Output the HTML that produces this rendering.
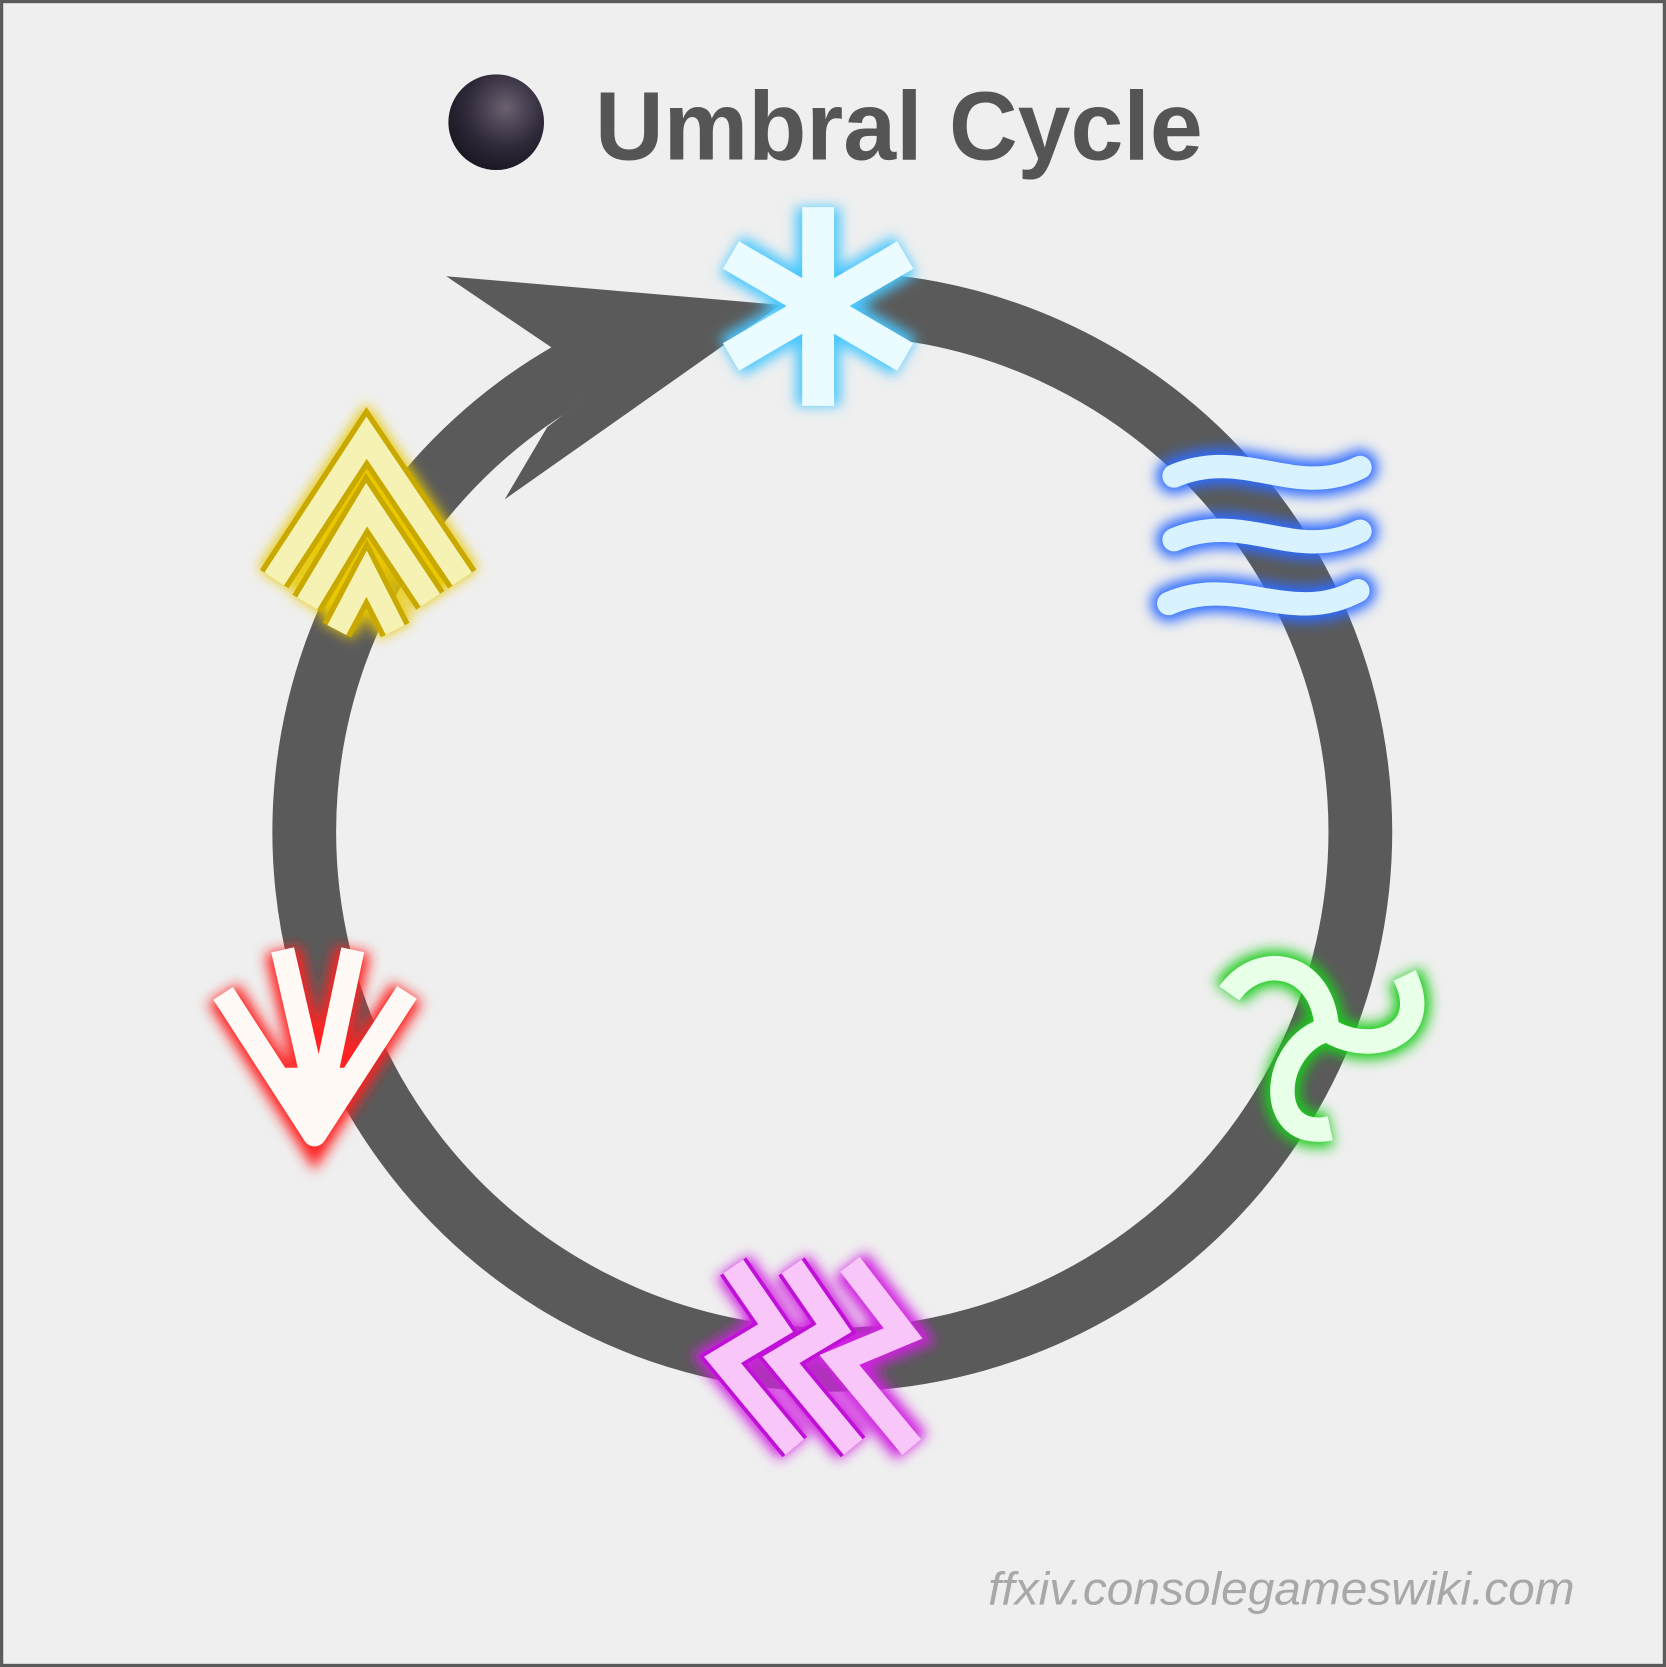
<!DOCTYPE html>
<html><head><meta charset="utf-8"><style>
html,body{margin:0;padding:0;background:#efefef}
svg{display:block}
</style></head><body>
<svg width="1666" height="1667" viewBox="0 0 1568 1569" xmlns="http://www.w3.org/2000/svg">
<defs>
<filter id="g" x="-30%" y="-30%" width="160%" height="160%"><feGaussianBlur stdDeviation="6"/></filter>
<radialGradient id="orb" cx="0.6" cy="0.35" r="0.7"><stop offset="0" stop-color="#6a6070"/><stop offset="0.6" stop-color="#2e2838"/><stop offset="1" stop-color="#1a1620"/></radialGradient>
</defs>
<rect x="1.5" y="1.5" width="1565" height="1566" fill="#efefef" stroke="#5a5a5a" stroke-width="3"/>
<circle cx="467" cy="115" r="45" fill="url(#orb)"/>
<text x="560" y="150" font-family="Liberation Sans, sans-serif" font-weight="bold" font-size="92" fill="#555" textLength="572" lengthAdjust="spacingAndGlyphs">Umbral Cycle</text>
<text x="930" y="1510" font-family="Liberation Sans, sans-serif" font-style="italic" font-size="44" fill="#a8a8a8" textLength="552" lengthAdjust="spacingAndGlyphs">ffxiv.consolegameswiki.com</text>

<path d="M770,286 A497,497 0 1 1 534.5,352.6" fill="none" stroke="#5a5a5a" stroke-width="60"/>
<polygon points="519,327 420,260 735,287 475,470 515,402 532,389 542,383 549,378" fill="#5a5a5a"/>

<!-- star -->
<g stroke-linecap="butt">
<g stroke="#4cc8ff" stroke-width="42" filter="url(#g)">
<line x1="770" y1="195" x2="770" y2="382"/><line x1="688" y1="240" x2="852" y2="336"/><line x1="688" y1="336" x2="852" y2="240"/></g>
<g stroke="#eafcff" stroke-width="30">
<line x1="770" y1="195" x2="770" y2="382"/><line x1="688" y1="240" x2="852" y2="336"/><line x1="688" y1="336" x2="852" y2="240"/></g>
</g>

<!-- waves -->
<g fill="none" stroke-linecap="round">
<g stroke="#2d6cff" stroke-width="34" filter="url(#g)">
<path d="M1105,448 C1170,420 1220,470 1280,440"/><path d="M1105,508 C1170,480 1220,530 1280,500"/><path d="M1100,568 C1165,540 1215,590 1278,556"/></g>
<g stroke="#d8f2ff" stroke-width="22">
<path d="M1105,448 C1170,420 1220,470 1280,440"/><path d="M1105,508 C1170,480 1220,530 1280,500"/><path d="M1100,568 C1165,540 1215,590 1278,556"/></g>
</g>

<!-- green triskelion -->
<g fill="none">
<g stroke="#1ecc1e" stroke-width="34" filter="url(#g)">
<path d="M1249,969 C1245,905 1185,895 1157,935"/><path d="M1249,969 C1290,995 1350,975 1322,918"/><path d="M1249,969 C1195,985 1190,1075 1252,1062"/></g>
<g stroke="#e8ffe8" stroke-width="23">
<path d="M1249,969 C1245,905 1185,895 1157,935"/><path d="M1249,969 C1290,995 1350,975 1322,918"/><path d="M1249,969 C1195,985 1190,1075 1252,1062"/></g>
</g>

<!-- magenta -->
<g fill="none" stroke-linejoin="miter">
<g stroke="#d020e0" stroke-width="38" filter="url(#g)">
<polyline points="690,1192 730,1250 680,1280 748,1362"/><polyline points="745,1192 785,1250 735,1280 803,1362"/><polyline points="800,1190 850,1255 790,1280 858,1362"/></g>
<g stroke="#c010d8" stroke-width="30">
<polyline points="690,1192 730,1250 680,1280 748,1362"/><polyline points="745,1192 785,1250 735,1280 803,1362"/></g>
<g stroke="#f9c6f9" stroke-width="23">
<polyline points="690,1192 730,1250 680,1280 748,1362"/><polyline points="745,1192 785,1250 735,1280 803,1362"/><polyline points="800,1190 850,1255 790,1280 858,1362"/></g>
</g>

<!-- red -->
<g fill="none">
<g stroke="#ff2020" stroke-width="34" filter="url(#g)">
<polyline points="210,935 296,1070 383,934"/><line x1="266" y1="894" x2="292" y2="1007"/><line x1="332" y1="894" x2="308" y2="1007"/></g>
<g stroke="#fffaf5" stroke-width="22" stroke-linejoin="round">
<polyline points="210,935 296,1068 383,934"/><line x1="266" y1="894" x2="292" y2="1007"/><line x1="332" y1="894" x2="308" y2="1007"/></g>
<polygon points="262,1005 334,1005 296,1066" fill="#fffaf5"/>
</g>

<!-- yellow -->
<g fill="none">
<g stroke="#e8c800" stroke-width="36" filter="url(#g)">
<polyline points="258,545 345,412 435,545"/><polyline points="289,568 345,475 405,565"/><polyline points="317,593 345,540 372,593"/></g>
<g stroke="#c9a800" stroke-width="32"><polyline points="258,545 345,412 435,545"/></g>
<g stroke="#f6f2b4" stroke-width="22"><polyline points="258,545 345,412 435,545"/></g>
<g stroke="#c9a800" stroke-width="32"><polyline points="289,568 345,475 405,565"/></g>
<g stroke="#f6f2b4" stroke-width="22"><polyline points="289,568 345,475 405,565"/></g>
<g stroke="#c9a800" stroke-width="30"><polyline points="317,593 345,540 372,593"/></g>
<g stroke="#f6f2b4" stroke-width="20"><polyline points="317,593 345,540 372,593"/></g>
</g>
</svg>
</body></html>
